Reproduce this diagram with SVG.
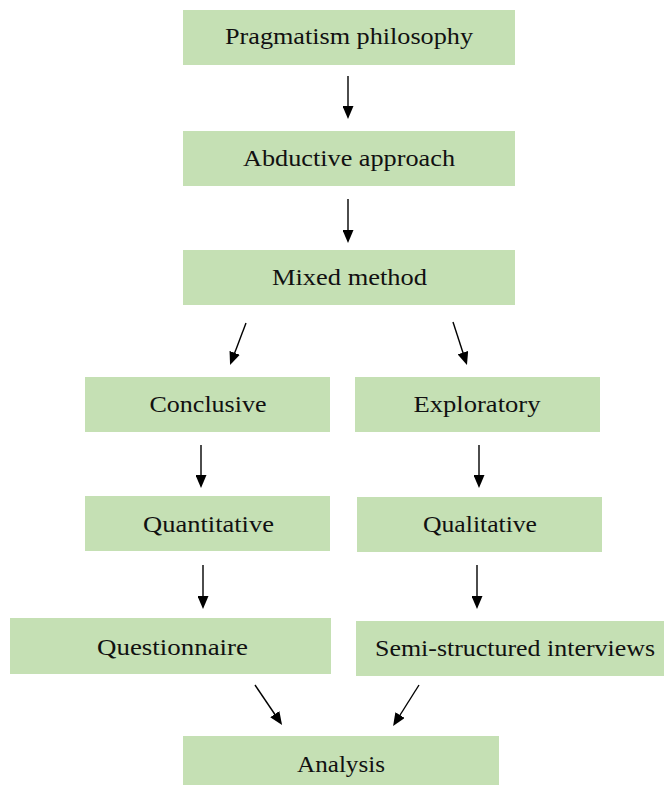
<svg xmlns="http://www.w3.org/2000/svg" width="664" height="785" viewBox="0 0 664 785">
<style>
.box{fill:#c5e0b4;}
.lbl{font-family:'Liberation Serif','Times New Roman',serif;font-size:23px;fill:#111;text-anchor:middle;}
.arr{stroke:#000;stroke-width:1.4;fill:none;marker-end:url(#ah);}
</style>
<defs>
<marker id="ah" viewBox="0 0 13 11" refX="7" refY="5.5" markerWidth="13" markerHeight="11" markerUnits="userSpaceOnUse" orient="auto">
<path d="M0,0 L13,5.5 L0,11 Z" fill="#000"/>
</marker>
</defs>
<rect width="664" height="785" fill="#fff"/>
<g id="n-pragmatism"><rect class="box" x="183" y="10" width="332" height="55"/><text class="lbl" x="349" y="44" textLength="248" lengthAdjust="spacingAndGlyphs">Pragmatism philosophy</text></g>
<g id="n-abductive"><rect class="box" x="183" y="131" width="332" height="55"/><text class="lbl" x="349" y="166" textLength="212" lengthAdjust="spacingAndGlyphs">Abductive approach</text></g>
<g id="n-mixed"><rect class="box" x="183" y="250" width="332" height="55"/><text class="lbl" x="349.5" y="285" textLength="155" lengthAdjust="spacingAndGlyphs">Mixed method</text></g>
<g id="n-conclusive"><rect class="box" x="85" y="377" width="245" height="55"/><text class="lbl" x="208" y="411.5" textLength="117" lengthAdjust="spacingAndGlyphs">Conclusive</text></g>
<g id="n-exploratory"><rect class="box" x="355" y="377" width="245" height="55"/><text class="lbl" x="477" y="411.5" textLength="127" lengthAdjust="spacingAndGlyphs">Exploratory</text></g>
<g id="n-quantitative"><rect class="box" x="85" y="496" width="245" height="55"/><text class="lbl" x="208.5" y="531.5" textLength="131" lengthAdjust="spacingAndGlyphs">Quantitative</text></g>
<g id="n-qualitative"><rect class="box" x="357" y="497" width="245" height="55"/><text class="lbl" x="480" y="532" textLength="114" lengthAdjust="spacingAndGlyphs">Qualitative</text></g>
<g id="n-questionnaire"><rect class="box" x="10" y="618" width="321" height="56"/><text class="lbl" x="172.5" y="654.5" textLength="151" lengthAdjust="spacingAndGlyphs">Questionnaire</text></g>
<g id="n-semi"><rect class="box" x="356" y="621" width="308" height="55"/><text class="lbl" x="515" y="656" textLength="280" lengthAdjust="spacingAndGlyphs">Semi-structured interviews</text></g>
<g id="n-analysis"><rect class="box" x="183" y="736" width="316" height="49"/><text class="lbl" x="341" y="771.5" textLength="88" lengthAdjust="spacingAndGlyphs">Analysis</text></g>
<g id="connectors">
<line class="arr" x1="348" y1="76" x2="348" y2="113"/>
<line class="arr" x1="348" y1="199" x2="348" y2="237"/>
<line class="arr" x1="246" y1="323" x2="232.2" y2="359.4"/>
<line class="arr" x1="453" y1="322" x2="465.1" y2="359.3"/>
<line class="arr" x1="201" y1="445" x2="201" y2="482"/>
<line class="arr" x1="479" y1="445" x2="479" y2="482"/>
<line class="arr" x1="203" y1="565" x2="203" y2="603"/>
<line class="arr" x1="477" y1="565" x2="477" y2="603"/>
<line class="arr" x1="255" y1="685" x2="278.7" y2="720"/>
<line class="arr" x1="419" y1="685" x2="396.3" y2="721"/>
</g>
</svg>
